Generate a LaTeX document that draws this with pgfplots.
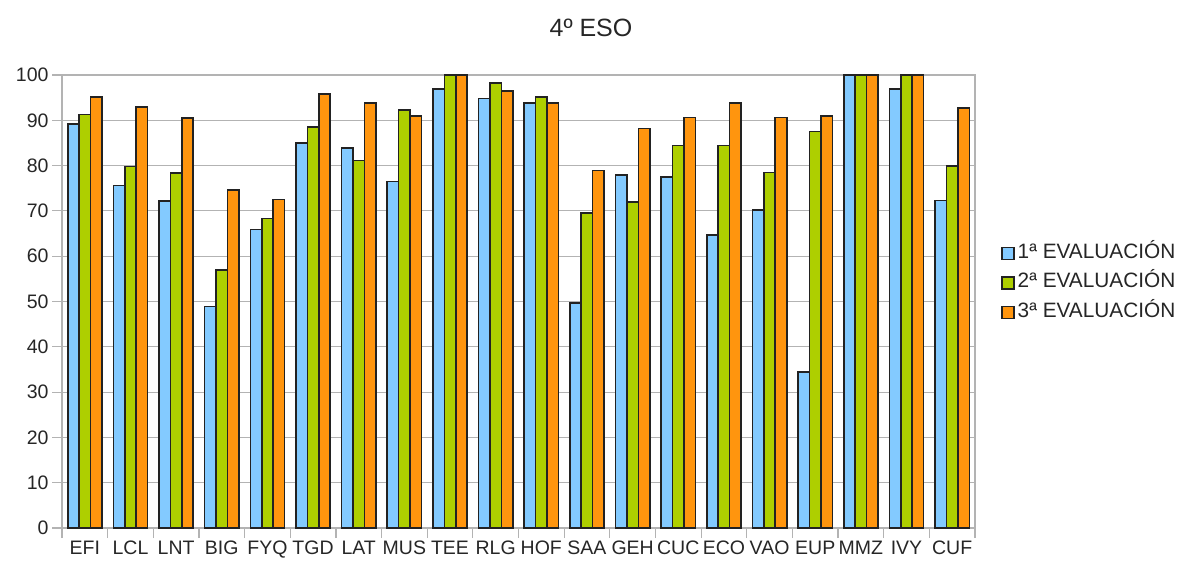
\documentclass[border=0pt]{standalone}
\usepackage{fontspec}
\setmainfont{Liberation Sans}
\usepackage{pgfplots}
\usepackage{pgfplotstable}
\pgfplotsset{compat=1.18}
\definecolor{cA}{HTML}{83CAFF}
\definecolor{cB}{HTML}{AECF00}
\definecolor{cC}{HTML}{FF950E}
\definecolor{gridgray}{HTML}{B3B3B3}
\definecolor{outl}{HTML}{222222}

\pgfplotstableread{
x s1 s2 s3
0 89.2 91.3 95.1
1 75.6 79.8 93.0
2 72.2 78.4 90.5
3 48.9 56.9 74.6
4 65.9 68.3 72.5
5 85.0 88.5 95.8
6 83.9 81.1 93.8
7 76.5 92.3 90.9
8 96.9 100 100
9 94.8 98.2 96.5
10 93.8 95.1 93.8
11 49.7 69.6 78.9
12 77.9 72.0 88.2
13 77.5 84.4 90.6
14 64.7 84.4 93.8
15 70.2 78.5 90.6
16 34.5 87.5 90.9
17 100 100 100
18 96.9 100 100
19 72.3 79.9 92.7
}\datatable

\begin{document}
\begin{tikzpicture}
\path[use as bounding box] (-62pt,-37pt) rectangle (1118pt,528pt);
\begin{axis}[
  at={(0pt,0pt)}, anchor=south west,
  scale only axis, width=913pt, height=453pt,
  ybar, bar width=0.25,
  xmin=-0.5, xmax=19.5, ymin=0, ymax=100,
  clip=false,
  xtick={0,...,19},
  xticklabels={EFI,LCL,LNT,BIG,FYQ,TGD,LAT,MUS,TEE,RLG,HOF,SAA,GEH,CUC,ECO,VAO,EUP,MMZ,IVY,CUF},
  minor xtick={-0.5,0.5,...,19.5},
  ytick={0,10,...,100},
  xtick pos=bottom, ytick pos=left,
  tick align=outside,
  major tick length=10pt, minor tick length=10pt,
  major x tick style={draw=none},
  minor x tick style={draw=gridgray, line width=1.2pt},
  major y tick style={draw=gridgray, line width=1.2pt},
  ymajorgrids, grid style={draw=gridgray, line width=1.2pt},
  axis line style={draw=gridgray, line width=1.2pt},
  ticklabel style={font=\fontsize{19.5}{22}\selectfont, text=black!85},
  /pgf/number format/assume math mode=true,
  xticklabel style={inner sep=3pt},
  legend cell align=left,
  legend image code/.code={\draw[#1, line width=1.5pt] (0pt,-6pt) rectangle (12pt,6pt);},
  legend style={draw=none, fill=none, at={(1.0285,0.541)}, anchor=west, inner sep=0pt,
    row sep=6pt,
    nodes={inner sep=3pt, text height=13.5pt, text depth=4pt, font=\fontsize{20.8}{23}\selectfont, text=black!85}},
]
\addplot[fill=cA, draw=outl, line width=1.6pt, bar shift=-0.25] table[x=x,y=s1]{\datatable};
\addplot[fill=cB, draw=outl, line width=1.6pt, bar shift=0] table[x=x,y=s2]{\datatable};
\addplot[fill=cC, draw=outl, line width=1.6pt, bar shift=0.25] table[x=x,y=s3]{\datatable};
\legend{1ª EVALUACIÓN, 2ª EVALUACIÓN, 3ª EVALUACIÓN}
\end{axis}
\node[font=\fontsize{25}{28}\selectfont, text=black!85] at (529pt,500pt) {4º ESO};
\end{tikzpicture}
\end{document}
